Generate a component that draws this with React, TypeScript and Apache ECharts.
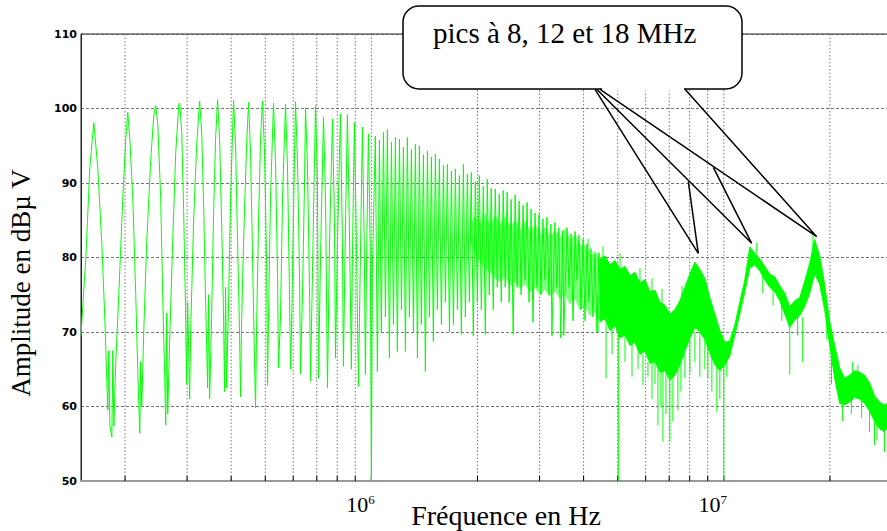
import React, { useEffect, useRef } from "react";
import * as echarts from "echarts";

const GREEN = "#00ff00";
const SERIF = "Liberation Serif";

// frequencies in MHz, levels in dBµV
const yTicks = [50, 60, 70, 80, 90, 100, 110];
const gridFreq = [0.2, 0.3, 0.4, 0.5, 0.6, 0.7, 0.8, 0.9, 1, 2, 3, 4, 5, 6, 7, 8, 9, 10, 20];

// individual harmonic lobes below ~1 MHz : [MHz, dBµV]
const combLow: number[][] = [
  [0.150, 69.5], [0.1548, 80], [0.1589, 92], [0.1631, 98.1], [0.1674, 92], [0.1718, 82], [0.1752, 72],
  [0.1787, 59.5], [0.1799, 67.5], [0.1811, 57.5], [0.1835, 55.9], [0.1847, 67.5], [0.1859, 57.4], [0.1883, 66],
  [0.1920, 75], [0.1971, 88], [0.2010, 96], [0.2036, 99.5], [0.2063, 96], [0.2104, 88], [0.2145, 75],
  [0.2173, 65], [0.2202, 56.4], [0.2216, 66], [0.2231, 60], [0.2260, 70], [0.2304, 82], [0.2365, 93],
  [0.2412, 99], [0.2444, 100.4], [0.2476, 98], [0.2525, 88], [0.2558, 75], [0.2592, 64], [0.2609, 57.5],
  [0.2626, 72.5], [0.2643, 59], [0.2678, 69], [0.2730, 82], [0.2785, 94], [0.2840, 100.5], [0.2858, 100.7],
  [0.2896, 97], [0.2934, 86], [0.2972, 72], [0.2991, 63], [0.3011, 74], [0.3050, 61], [0.3070, 70],
  [0.3131, 85], [0.3193, 95], [0.3256, 101], [0.3299, 97], [0.3342, 87], [0.3386, 74], [0.3431, 62.5],
  [0.3453, 75], [0.3476, 61], [0.3521, 72], [0.3567, 86], [0.3614, 96], [0.3661, 101.2], [0.3709, 96],
  [0.3758, 85], [0.3807, 72], [0.3832, 62], [0.3858, 76], [0.3883, 62.5], [0.3934, 74], [0.3986, 88],
  [0.4064, 101.1], [0.4118, 95], [0.4172, 82], [0.4226, 70], [0.4254, 61.3], [0.4282, 71], [0.4338, 82],
  [0.4424, 95], [0.4482, 100.8], [0.4541, 94], [0.4601, 80], [0.4661, 66], [0.4692, 59.8], [0.4722, 70],
  [0.4785, 85], [0.4848, 96], [0.4911, 101], [0.4976, 94], [0.5041, 80], [0.5074, 62.8], [0.5107, 72],
  [0.5173, 88], [0.5276, 100.7], [0.5345, 93], [0.5415, 78], [0.5451, 65.2], [0.5523, 72], [0.5596, 88],
  [0.5706, 100.6], [0.5781, 92], [0.5858, 75], [0.5896, 65], [0.5935, 70], [0.6013, 86], [0.6092, 100.9],
  [0.6171, 93], [0.6252, 78], [0.6293, 64.4], [0.6376, 75], [0.6460, 90], [0.6503, 100.1], [0.6588, 92],
  [0.6675, 76], [0.6718, 63.4], [0.6806, 78], [0.6941, 100.4], [0.7032, 90], [0.7078, 63.8], [0.7172, 80],
  [0.7314, 98.8], [0.7410, 88], [0.7507, 62.5], [0.7606, 82], [0.7755, 98.6], [0.7857, 85], [0.7909, 66.5],
  [0.8013, 82], [0.8169, 99.3], [0.8276, 82], [0.8330, 65.4], [0.8440, 84], [0.8551, 99.2], [0.8664, 84],
  [0.8776, 65], [0.8834, 80], [0.8950, 98.1], [0.9068, 82], [0.9187, 62.7], [0.9308, 80], [0.9430, 97.5],
  [0.9554, 80], [0.9616, 64.3], [0.9679, 78], [0.9806, 96.6], [0.9935, 80], [1.000, 50], [1.0065, 78],
];

// dense comb 1 – 4.5 MHz : [MHz, dBµV]
const combMid: number[][] = [
  [1.026, 96.3], [1.040, 64.7], [1.054, 95.8], [1.067, 70], [1.082, 96.8], [1.096, 72], [1.110, 97.2],
  [1.125, 66.5], [1.140, 95.5], [1.155, 71], [1.170, 96.1], [1.185, 67.4], [1.201, 95.9], [1.217, 73],
  [1.233, 94.8], [1.249, 67.4], [1.265, 96.1], [1.282, 72], [1.299, 94.5], [1.316, 70], [1.333, 95.2],
  [1.351, 66.5], [1.368, 95.0], [1.386, 71], [1.405, 93.8], [1.423, 64.7], [1.442, 94.3], [1.461, 72],
  [1.480, 93.5], [1.499, 68.7], [1.519, 93.9], [1.539, 73], [1.559, 93.2], [1.580, 71], [1.601, 92.4],
  [1.622, 74], [1.643, 92.5], [1.665, 70], [1.687, 91.6], [1.709, 71], [1.731, 91.9], [1.754, 73],
  [1.777, 91.0], [1.800, 69.7], [1.824, 92.5], [1.848, 72], [1.872, 91.2], [1.897, 74], [1.920, 91.4],
  [1.946, 69.5], [1.972, 90.2], [1.998, 74], [2.024, 91.0], [2.051, 73], [2.078, 89.6], [2.105, 69.7],
  [2.132, 90.5], [2.160, 75], [2.188, 89.3], [2.217, 73], [2.246, 89.2], [2.276, 76], [2.306, 88.5],
  [2.336, 74], [2.366, 89.0], [2.397, 76], [2.428, 88.8], [2.460, 74], [2.492, 87.8], [2.525, 69.7],
  [2.558, 88.4], [2.591, 76], [2.625, 87.6], [2.660, 75], [2.694, 87.0], [2.730, 77], [2.765, 87.4],
  [2.801, 74], [2.838, 86.5], [2.875, 71.3], [2.912, 86.0], [2.950, 76], [2.989, 85.8], [3.028, 75],
  [3.067, 85.2], [3.107, 77], [3.148, 85.4], [3.189, 75], [3.231, 84.5], [3.252, 69.5], [3.315, 84.7],
  [3.358, 76], [3.402, 84.0], [3.446, 69.2], [3.492, 83.6], [3.514, 69.5], [3.590, 84.0], [3.637, 76],
  [3.686, 83.2], [3.734, 71.5], [3.783, 83.5], [3.832, 77], [3.882, 83.0], [3.933, 73], [3.985, 82.5],
  [4.037, 71.5], [4.090, 81.8], [4.143, 74], [4.197, 81.2], [4.252, 72], [4.308, 80.4], [4.364, 70],
  [4.422, 80.6], [4.480, 73],
];

// lighter noisy band 1.9 – 4.6 MHz : [MHz, upper dBµV, lower dBµV]
const bandEarly: number[][] = [
  [1.907, 84.0, 82.0], [1.970, 85.5, 80.5], [2.036, 84.5, 79.5], [2.103, 85.8, 78.6], [2.173, 84.2, 78.0],
  [2.245, 85.6, 77.2], [2.319, 84.4, 76.8], [2.396, 85.4, 77.4], [2.476, 84.0, 76.2], [2.558, 85.0, 76.9],
  [2.643, 83.6, 75.8], [2.731, 84.8, 76.5], [2.821, 83.4, 75.4], [2.915, 84.4, 76.0], [3.011, 83.0, 75.0],
  [3.111, 84.0, 75.8], [3.214, 82.6, 74.8], [3.321, 83.6, 75.5], [3.431, 82.6, 74.5], [3.545, 83.8, 75.0],
  [3.662, 82.4, 73.8], [3.784, 83.0, 74.5], [3.909, 81.6, 73.0], [4.039, 81.6, 73.6], [4.173, 80.2, 72.2],
  [4.311, 80.8, 72.8], [4.454, 79.8, 71.4], [4.602, 80.2, 71.8],
];

// solid noisy band 4.5 – 29.5 MHz : [MHz, upper dBµV, lower dBµV]
const bandLate: number[][] = [
  [4.454, 79.8, 71.4], [4.602, 80.2, 71.8], [4.754, 79.0, 70.2],
  [4.912, 79.6, 70.8], [5.075, 78.4, 69.2], [5.243, 78.8, 69.6], [5.417, 77.6, 68.2], [5.597, 78.0, 68.6],
  [5.782, 76.6, 67.0], [5.974, 77.0, 67.4], [6.172, 75.4, 65.8], [6.377, 75.6, 66.0], [6.588, 74.0, 64.6],
  [6.807, 73.6, 64.8], [7.031, 72.4, 63.6], [7.264, 73.0, 64.2], [7.505, 74.2, 65.6], [7.754, 76.0, 67.4],
  [8.011, 77.8, 69.2], [8.277, 79.4, 70.6], [8.551, 78.4, 70.0], [8.835, 77.2, 69.0], [9.128, 74.6, 67.2],
  [9.430, 72.4, 65.6], [9.743, 70.2, 64.8], [10.07, 68.6, 65.6], [10.40, 68.8, 66.8], [10.75, 71.0, 69.6],
  [11.10, 74.0, 72.4], [11.47, 77.0, 75.4], [11.85, 81.4, 78.6], [12.24, 80.6, 79.0], [12.65, 79.8, 78.2],
  [13.07, 78.8, 77.0], [13.50, 77.8, 76.0], [13.95, 77.4, 75.4], [14.41, 76.2, 74.2], [14.89, 75.2, 72.4],
  [15.38, 73.4, 70.6], [15.89, 74.2, 71.6], [16.42, 74.6, 72.2], [16.96, 76.8, 73.4], [17.52, 79.2, 75.2],
  [18.10, 82.4, 77.8], [18.71, 80.2, 76.4], [19.32, 76.4, 73.0], [19.97, 71.4, 68.2], [20.63, 68.2, 63.8],
  [21.31, 65.2, 60.4], [22.02, 63.8, 60.2], [22.75, 64.2, 60.6], [23.50, 64.8, 61.2], [24.28, 64.6, 61.0],
  [25.08, 64.2, 60.4], [25.91, 63.2, 59.4], [26.77, 61.4, 58.0], [27.66, 60.6, 57.0], [28.57, 60.2, 56.6],
  [29.50, 60.6, 57.6],
];

// isolated spikes : [MHz, from dBµV, to dBµV]
const spikes: number[][] = [
  [4.396, 75, 70], [4.632, 72, 63.8], [4.817, 71, 67], [5.02, 71, 50], [5.243, 70, 66], [5.488, 69, 64],
  [5.707, 68, 65], [5.896, 67, 62.9], [6.092, 66, 64], [6.253, 66, 61], [6.377, 66, 63], [6.502, 65, 57.5],
  [6.631, 65, 60], [6.718, 65, 55.3], [6.851, 64.5, 59], [7.031, 64, 55.3], [7.171, 64, 58], [7.408, 65, 59.5],
  [7.555, 66, 62], [7.754, 67, 63.8], [8.011, 69, 64.5], [8.277, 70, 66], [8.551, 70, 64], [8.835, 69, 65],
  [9.010, 68, 63.8], [9.248, 67, 62], [9.554, 65.5, 59.3], [9.743, 65, 61], [10.0, 65.5, 50], [10.20, 66.5, 64],
  [12.9, 77.5, 75.2], [13.8, 76.4, 73.6], [14.6, 75.5, 71.5], [15.38, 71, 64.3], [16.2, 73, 69.5],
  [16.74, 72, 66], [19.6, 73, 69], [20.2, 68, 63], [21.73, 60.5, 58], [23.0, 61.5, 59], [24.6, 61.5, 58.5],
  [25.91, 59.5, 56.6], [26.77, 58, 54.8], [27.2, 58.5, 55.5], [28.57, 57, 53.9],
  [4.119, 80, 82.5], [4.541, 79, 81.5], [5.075, 78, 80.6], [5.782, 76, 78.6], [6.253, 75, 77.2],
  [6.674, 73, 75.8], [7.605, 74, 76.2], [12.4, 80.5, 82], [17.9, 81, 83], [23.2, 64, 66], [24.0, 64, 65.6],
];

const calloutText = "pics à 8, 12 et 18 MHz";
const yName = "Amplitude en dBµ V";
const xName = "Fréquence en Hz";

function bandSeries(points: number[][], fill: string) {
  return {
    type: "custom", z: 2, silent: true,
    data: points.map((p) => [p[0], p[1], p[2]]),
    encode: { x: 0, y: [1, 2] },
    renderItem: (params: any, api: any) => {
      if (params.dataIndex !== 0) return { type: "group", children: [] };
      const up = points.map((p) => api.coord([p[0], p[1]]));
      const lo = points.slice().reverse().map((p) => api.coord([p[0], p[2]]));
      return { type: "polygon", shape: { points: up.concat(lo) }, style: { fill, stroke: fill, lineWidth: 1 } };
    },
  };
}

export default function App() {
  const ref = useRef<HTMLDivElement>(null);
  useEffect(() => {
    if (!ref.current) return;
    const chart = echarts.init(ref.current, undefined, { renderer: "svg" });
    const option: any = {
      animation: false,
      textStyle: { fontFamily: SERIF },
      title: {
        text: calloutText, left: 433, top: 18, padding: 0, z: 200,
        textStyle: { fontFamily: SERIF, fontSize: 29, fontWeight: "normal", color: "#000" },
      },
      grid: {
        left: 81, right: -5, top: 34, bottom: 50, show: true, containLabel: false, outerBoundsMode: "none",
        borderColor: "#222", borderWidth: 1, backgroundColor: "transparent",
      },
      xAxis: {
        type: "log", logBase: 10, min: 0.15, max: 30,
        name: xName, nameLocation: "middle", nameGap: 20, nameMoveOverlap: false,
        nameTextStyle: { fontFamily: SERIF, fontSize: 28, color: "#000", padding: [0, 0, 0, 39] },
        axisLine: { show: true, lineStyle: { color: "#9a9a9a", width: 2 } },
        axisTick: { show: false },
        splitLine: { show: false },
        axisLabel: {
          showMinLabel: false, showMaxLabel: false, margin: 12, padding: [0, 22, 0, 0],
          formatter: (v: number) => `{b|10}{s|${Math.round(Math.log10(v)) + 6}}`,
          rich: {
            b: { fontFamily: SERIF, fontSize: 22, color: "#000", lineHeight: 22 },
            s: { fontFamily: SERIF, fontSize: 13, color: "#000", verticalAlign: "top", lineHeight: 22 },
          },
        },
      },
      yAxis: {
        type: "value", min: yTicks[0], max: yTicks[yTicks.length - 1], interval: 10,
        name: yName, nameLocation: "middle", nameGap: 47, nameRotate: 90, nameMoveOverlap: false,
        nameTextStyle: { fontFamily: SERIF, fontSize: 27, color: "#000", padding: [0, 51, 0, 0] },
        axisLine: { show: true, lineStyle: { color: "#222", width: 1 } },
        axisTick: { show: false },
        axisLabel: { fontFamily: "DejaVu Sans", fontWeight: "bold", fontSize: 11, color: "#000", margin: 4 },
        splitLine: { show: true, lineStyle: { color: "#555", type: [3, 2], width: 0.8 } },
      },
      series: [
        {
          type: "custom", z: 1, silent: true,
          data: gridFreq.map((f) => [f, 50]),
          encode: { x: 0, y: 1 },
          renderItem: (params: any, api: any) => {
            const f = api.value(0);
            const top = api.coord([f, 110]);
            const bot = api.coord([f, 50]);
            return {
              type: "group",
              children: [
                { type: "line", shape: { x1: top[0], y1: top[1], x2: bot[0], y2: bot[1] }, style: { stroke: "#555", lineWidth: 0.8, lineDash: [1.5, 2] } },
                { type: "line", shape: { x1: bot[0], y1: bot[1], x2: bot[0], y2: bot[1] - 5 }, style: { stroke: "#000", lineWidth: 1 } },
              ],
            };
          },
        },
        bandSeries(bandEarly, "#7dff7d"),
        bandSeries(bandLate, GREEN),
        {
          type: "custom", z: 2, silent: true,
          data: spikes.map((p) => [p[0], p[1], p[2]]),
          encode: { x: 0, y: [1, 2] },
          renderItem: (params: any, api: any) => {
            const a = api.coord([api.value(0), api.value(1)]);
            const b = api.coord([api.value(0), api.value(2)]);
            return { type: "line", shape: { x1: a[0], y1: a[1], x2: b[0], y2: b[1] }, style: { stroke: GREEN, lineWidth: 1 } };
          },
        },
        {
          type: "line", z: 3, silent: true, showSymbol: false, symbol: "none",
          data: combLow.concat(combMid),
          lineStyle: { color: GREEN, width: 1 },
        },
      ],
      graphic: [
        {
          type: "rect", z: 100,
          shape: { x: 403, y: 6, width: 339, height: 83, r: 16 },
          style: { fill: "#fff", stroke: "#000", lineWidth: 1.5 },
        },
        { type: "line", z: 101, shape: { x1: 602, y1: 89.3, x2: 684, y2: 89.3 }, style: { stroke: "#fff", lineWidth: 3 } },
        { type: "polyline", z: 102, shape: { points: [[595, 89.3], [698.3, 253.3], [688.3, 181.7]] }, style: { stroke: "#000", lineWidth: 1.5, fill: null } },
        { type: "polyline", z: 102, shape: { points: [[596.7, 89.3], [751.7, 243.3], [713.3, 167.3]] }, style: { stroke: "#000", lineWidth: 1.5, fill: null } },
        { type: "polyline", z: 102, shape: { points: [[600, 89.3], [816.7, 236.7], [685, 89.3]] }, style: { stroke: "#000", lineWidth: 1.5, fill: null } },
      ],
    };
    chart.setOption(option);
    return () => chart.dispose();
  }, []);
  return <div ref={ref} style={{ position: "fixed", left: 0, top: 0, width: 887, height: 531, background: "#fff" }} />;
}
